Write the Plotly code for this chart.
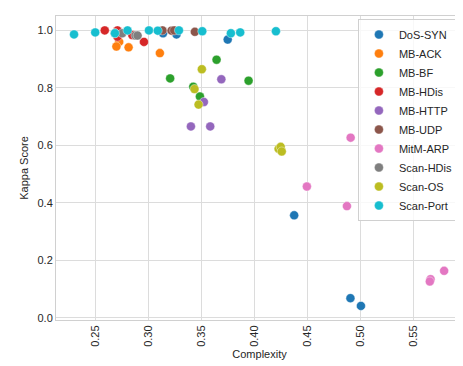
import plotly.graph_objects as go

# complexity / kappa pairs per attack class
dos_syn_x = [0.314, 0.3267, 0.375, 0.4377, 0.4908, 0.5007]
dos_syn_y = [0.99, 0.986, 0.968, 0.357, 0.069, 0.042]

mb_ack_x = [0.2726, 0.270, 0.2815, 0.311]
mb_ack_y = [0.960, 0.944, 0.941, 0.921]

mb_bf_x = [0.3207, 0.3645, 0.3425, 0.3488, 0.3947]
mb_bf_y = [0.833, 0.898, 0.804, 0.770, 0.825]

mb_hdis_x = [0.259, 0.271, 0.271, 0.285, 0.296]
mb_hdis_y = [1.0, 1.0, 0.978, 0.984, 0.960]

mb_http_x = [0.369, 0.3525, 0.3403, 0.3585]
mb_http_y = [0.830, 0.751, 0.666, 0.666]

mb_udp_x = [0.3135, 0.322, 0.3245, 0.344]
mb_udp_y = [1.0, 0.999, 1.0, 0.995]

mitm_arp_x = [0.491, 0.4497, 0.4875, 0.5664, 0.5657, 0.5792]
mitm_arp_y = [0.627, 0.457, 0.389, 0.135, 0.127, 0.164]

scan_hdis_x = [0.2686, 0.2755, 0.288, 0.290]
scan_hdis_y = [0.990, 0.990, 0.982, 0.982]

scan_os_x = [0.3506, 0.3437, 0.3475, 0.423, 0.425, 0.426]
scan_os_y = [0.865, 0.796, 0.742, 0.588, 0.595, 0.579]

scan_port_x = [0.230, 0.250, 0.2686, 0.2805, 0.3007, 0.309, 0.329, 0.351, 0.378, 0.3868, 0.4205]
scan_port_y = [0.986, 0.993, 0.990, 1.0, 1.0, 0.999, 1.0, 0.997, 0.990, 0.993, 0.997]

series = [
    ("DoS-SYN", dos_syn_x, dos_syn_y, "#1f77b4"),
    ("MB-ACK", mb_ack_x, mb_ack_y, "#ff7f0e"),
    ("MB-BF", mb_bf_x, mb_bf_y, "#2ca02c"),
    ("MB-HDis", mb_hdis_x, mb_hdis_y, "#d62728"),
    ("MB-HTTP", mb_http_x, mb_http_y, "#9467bd"),
    ("MB-UDP", mb_udp_x, mb_udp_y, "#8c564b"),
    ("MitM-ARP", mitm_arp_x, mitm_arp_y, "#e377c2"),
    ("Scan-HDis", scan_hdis_x, scan_hdis_y, "#7f7f7f"),
    ("Scan-OS", scan_os_x, scan_os_y, "#bcbd22"),
    ("Scan-Port", scan_port_x, scan_port_y, "#17becf"),
]

fig = go.Figure()
for name, xs, ys, col in series:
    fig.add_trace(go.Scatter(
        x=xs, y=ys, mode="markers", name=name,
        marker=dict(color=col, size=9, line=dict(width=0.4, color="white")),
    ))

axis_style = dict(
    showgrid=True, gridcolor="#dcdcdc", gridwidth=1,
    showline=True, linecolor="#d0d0d0", linewidth=1, mirror=True,
    zeroline=False, ticks="", tickfont=dict(size=11, color="#262626"),
)

fig.update_layout(
    width=463, height=366,
    margin=dict(l=48, r=8, t=8, b=54),
    paper_bgcolor="white", plot_bgcolor="white",
    font=dict(family="Liberation Sans, Arial, sans-serif", size=11, color="#262626"),
    legend=dict(
        x=0.99, y=0.99, xanchor="right", yanchor="top",
        bgcolor="rgba(255,255,255,0.8)", bordercolor="#d0d0d0", borderwidth=1,
        font=dict(size=11), itemsizing="trace", tracegroupgap=0,
    ),
    xaxis=dict(
        title=dict(text="Complexity", font=dict(size=11), standoff=4),
        range=[0.213, 0.597], tickvals=[0.25, 0.30, 0.35, 0.40, 0.45, 0.50, 0.55],
        ticktext=["0.25", "0.30", "0.35", "0.40", "0.45", "0.50", "0.55"],
        tickangle=-90, **axis_style,
    ),
    yaxis=dict(
        title=dict(text="Kappa Score", font=dict(size=11), standoff=6),
        range=[-0.007, 1.05], tickvals=[0.0, 0.2, 0.4, 0.6, 0.8, 1.0],
        ticktext=["0.0", "0.2", "0.4", "0.6", "0.8", "1.0"],
        **axis_style,
    ),
)

fig.write_html("out.html")
